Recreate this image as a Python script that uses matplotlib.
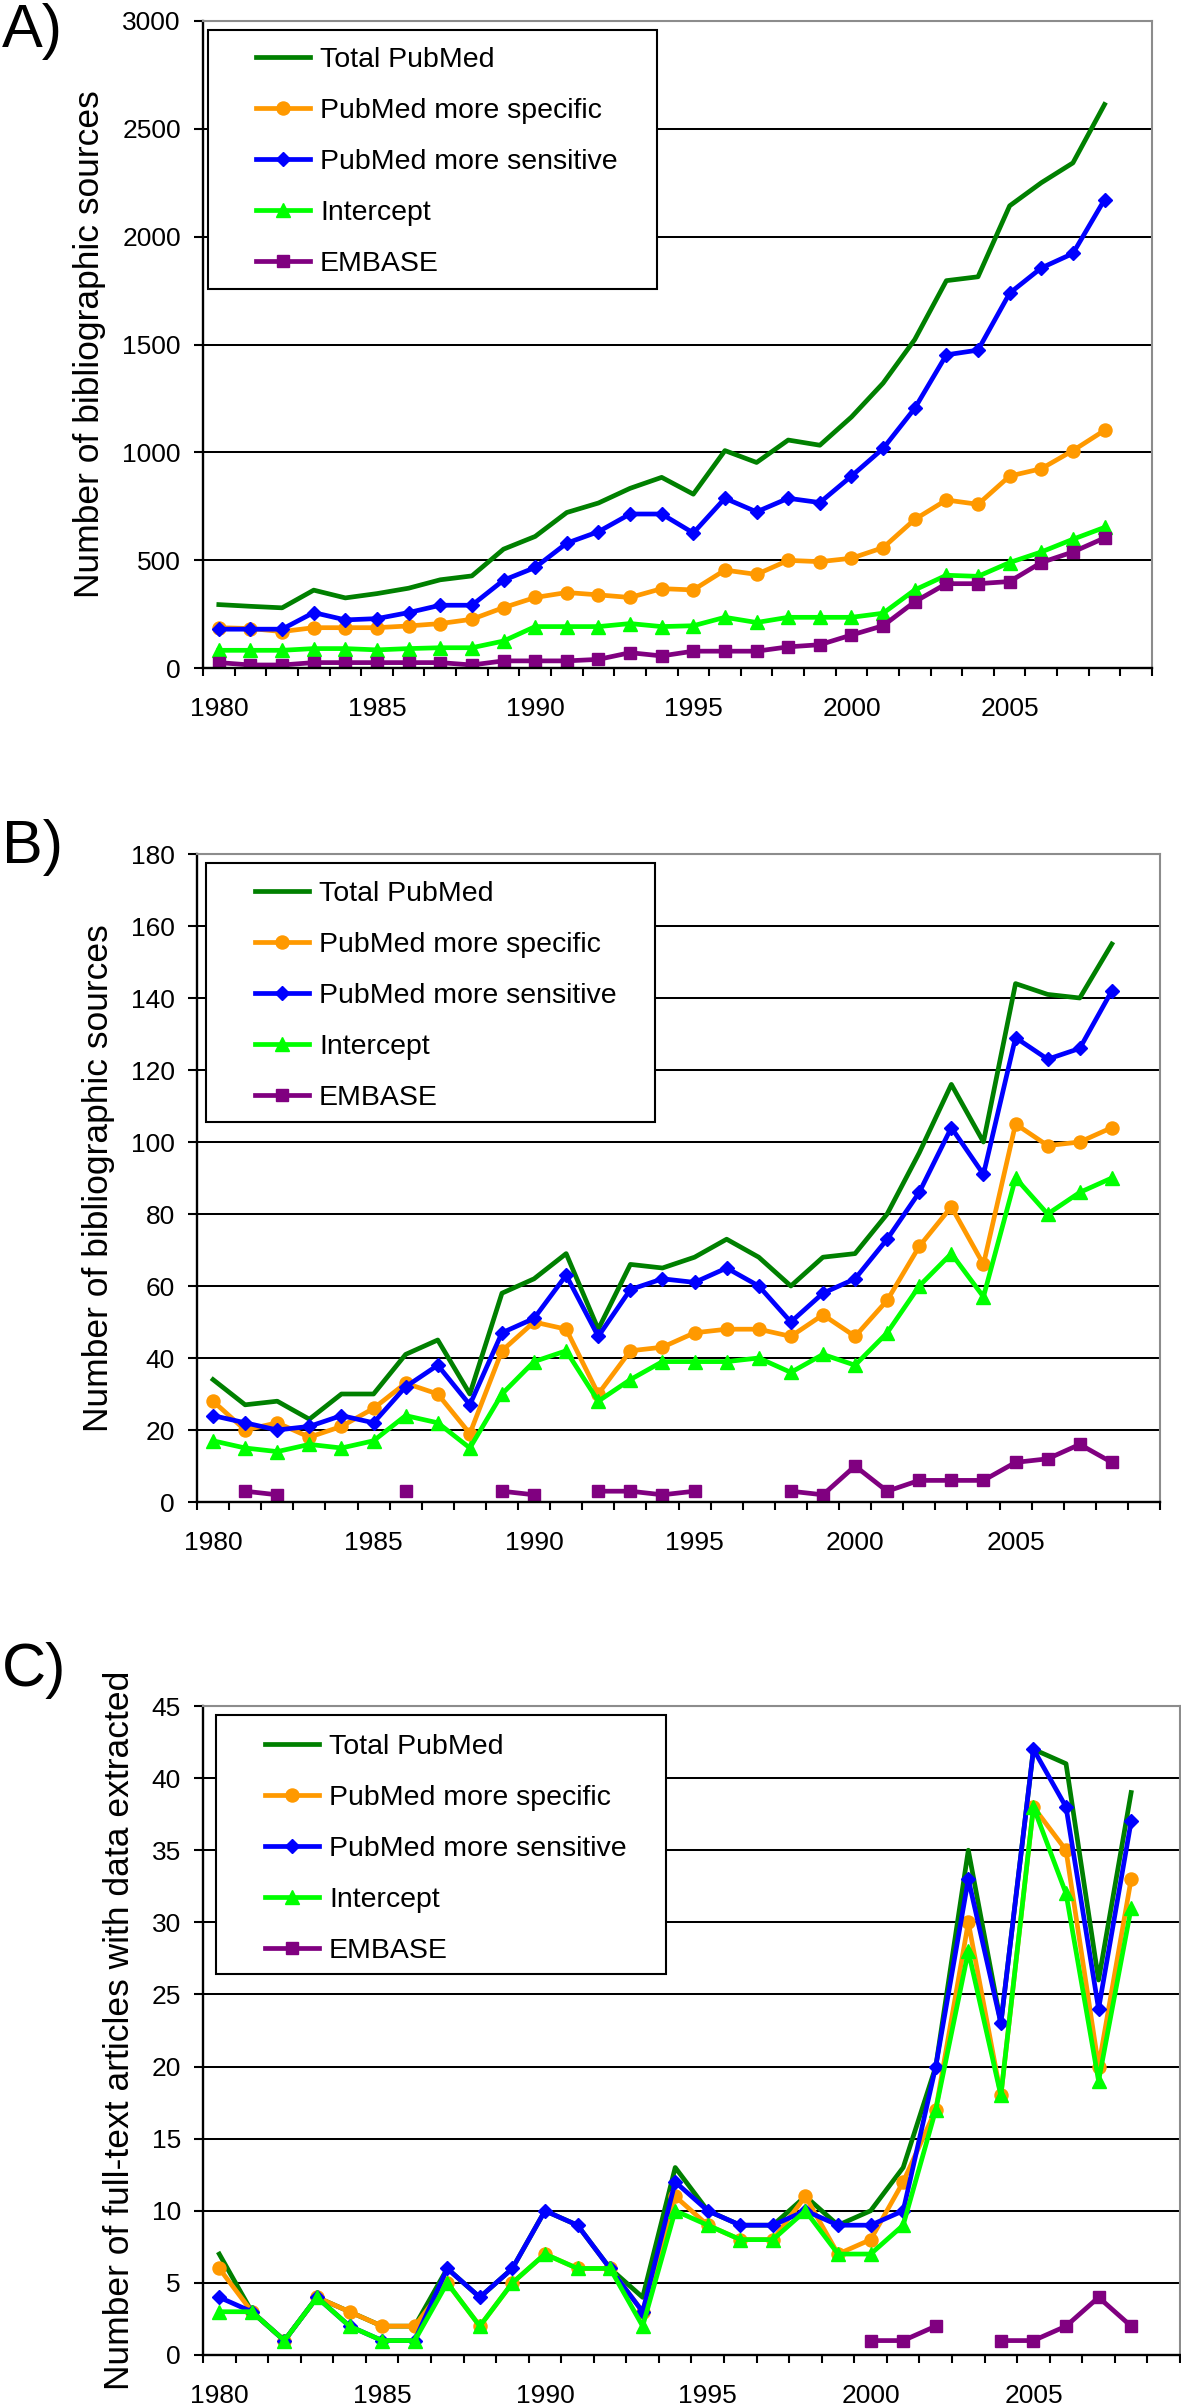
import numpy as np
import matplotlib.pyplot as plt
from matplotlib.patches import Rectangle

plt.rcParams['font.family'] = ['Liberation Sans', 'DejaVu Sans']

nan = np.nan
years = np.arange(1980, 2009)
series_names = ['Total PubMed', 'PubMed more specific', 'PubMed more sensitive',
                'Intercept', 'EMBASE']
year_ticks = [1980, 1985, 1990, 1995, 2000, 2005]

# A) bibliographic sources (all)
total_a = [294, 286, 279, 361, 325, 345, 370, 409, 427, 551, 610, 721, 765, 833, 884,
           806, 1008, 953, 1057, 1033, 1164, 1321, 1523, 1796, 1814, 2143, 2250, 2342, 2613]
specific_a = [187, 183, 169, 187, 187, 187, 195, 206, 226, 280, 327, 350, 339, 327, 368,
              362, 454, 434, 499, 493, 509, 558, 689, 779, 759, 890, 924, 1008, 1102]
sensitive_a = [180, 180, 180, 257, 223, 229, 257, 291, 291, 407, 466, 579, 632, 714, 714,
               626, 787, 724, 787, 767, 890, 1018, 1204, 1452, 1474, 1738, 1855, 1922, 2172]
intercept_a = [82, 82, 82, 90, 90, 84, 90, 94, 94, 125, 192, 192, 192, 206, 192,
               196, 235, 211, 235, 235, 235, 254, 362, 430, 425, 489, 538, 597, 652]
embase_a = [25, 14, 14, 25, 25, 25, 25, 25, 14, 33, 33, 33, 40, 71, 56,
            78, 78, 78, 98, 108, 153, 196, 307, 391, 391, 401, 489, 538, 603]

# B) bibliographic sources (subset)
total_b = [34, 27, 28, 23, 30, 30, 41, 45, 30, 58, 62, 69, 48, 66, 65,
           68, 73, 68, 60, 68, 69, 80, 97, 116, 100, 144, 141, 140, 155]
specific_b = [28, 20, 22, 18, 21, 26, 33, 30, 19, 42, 50, 48, 30, 42, 43,
              47, 48, 48, 46, 52, 46, 56, 71, 82, 66, 105, 99, 100, 104]
sensitive_b = [24, 22, 20, 21, 24, 22, 32, 38, 27, 47, 51, 63, 46, 59, 62,
               61, 65, 60, 50, 58, 62, 73, 86, 104, 91, 129, 123, 126, 142]
intercept_b = [17, 15, 14, 16, 15, 17, 24, 22, 15, 30, 39, 42, 28, 34, 39,
               39, 39, 40, 36, 41, 38, 47, 60, 69, 57, 90, 80, 86, 90]
embase_b = [nan, 3, 2, nan, nan, nan, 3, nan, nan, 3, 2, nan, 3, 3, 2,
            3, nan, nan, 3, 2, 10, 3, 6, 6, 6, 11, 12, 16, 11]

# C) full-text articles with data extracted
total_c = [7, 3, 1, 4, 3, 2, 2, 6, 4, 6, 10, 9, 6, 4, 13,
           10, 9, 9, 11, 9, 10, 13, 20, 35, 23, 42, 41, 26, 39]
specific_c = [6, 3, 1, 4, 3, 2, 2, 5, 2, 5, 7, 6, 6, 3, 11,
              9, 8, 8, 11, 7, 8, 12, 17, 30, 18, 38, 35, 20, 33]
sensitive_c = [4, 3, 1, 4, 2, 1, 1, 6, 4, 6, 10, 9, 6, 3, 12,
               10, 9, 9, 10, 9, 9, 10, 20, 33, 23, 42, 38, 24, 37]
intercept_c = [3, 3, 1, 4, 2, 1, 1, 5, 2, 5, 7, 6, 6, 2, 10,
               9, 8, 8, 10, 7, 7, 9, 17, 28, 18, 38, 32, 19, 31]
embase_c = [nan, nan, nan, nan, nan, nan, nan, nan, nan, nan, nan, nan, nan, nan, nan,
            nan, nan, nan, nan, nan, 1, 1, 2, nan, 1, 1, 2, 4, 2]

colors = ['#008000', '#FF9900', '#0000FF', '#00FF00', '#800080']
markers = ['None', 'o', 'D', '^', 's']
msizes = [0, 9.4, 6.8, 9.4, 8.8]

W, H = 1181, 2404
fig = plt.figure(figsize=(W / 100, H / 100), dpi=100)


def draw_panel(letter, data, box, ymax, ystep, ylabel, ylab_x, letter_y, frame, leg_x, leg_y):
    l, t, r, b = box
    ax = fig.add_axes([l / W, 1 - b / H, (r - l) / W, (b - t) / H])
    for vals, name, c, m, ms in zip(data, series_names, colors, markers, msizes):
        ax.plot(years, vals, color=c, lw=3.4, marker=m, ms=ms,
                mec=c, mfc=c, label=name)

    ax.set_xlim(1979.5, 2009.5)
    ax.set_xticks(year_ticks)
    ax.set_xticks(np.arange(1979.5, 2010, 1), minor=True)
    ax.tick_params(axis='x', which='major', length=0, pad=20.9, labelsize=19)
    ax.tick_params(axis='x', which='minor', length=6, width=1.5, direction='out')
    ax.set_ylim(0, ymax)
    ax.set_yticks(np.arange(0, ymax + 1, ystep))
    ax.tick_params(axis='y', length=6.5, width=1.5, direction='out', pad=9.5, labelsize=19)
    ax.yaxis.grid(True, color='black', lw=1.45)
    ax.set_axisbelow(True)
    for s in ['left', 'bottom']:
        ax.spines[s].set_linewidth(1.7)
    for s in ['top', 'right']:
        ax.spines[s].set_color('#8c8c8c')
        ax.spines[s].set_linewidth(1.5)

    ax.set_ylabel(ylabel, fontsize=25.5, va='center')
    ax.yaxis.set_label_coords((ylab_x - l) / (r - l), 0.5)

    # legend: white box with black border, entries placed inside
    fl, ft, fr, fb = frame
    ax.add_patch(Rectangle((fl / W, 1 - fb / H), (fr - fl) / W, (fb - ft) / H,
                           transform=fig.transFigure, clip_on=False,
                           facecolor='white', edgecolor='black', lw=1.5, zorder=4))
    ax.legend(loc='center left', bbox_to_anchor=(leg_x / W, 1 - leg_y / H),
              bbox_transform=fig.transFigure, frameon=False, fontsize=20.5,
              borderpad=0, borderaxespad=0, handlelength=1.9, handletextpad=0.35,
              labelspacing=0.88, numpoints=1)

    fig.text(2 / W, 1 - letter_y / H, letter, fontsize=44, ha='left', va='baseline')
    return ax


draw_panel('A)', [total_a, specific_a, sensitive_a, intercept_a, embase_a],
           (203, 21, 1152, 668), 3000, 500, 'Number of bibliographic sources',
           90, 47, (208, 30, 657, 289), 256, 162)
draw_panel('B)', [total_b, specific_b, sensitive_b, intercept_b, embase_b],
           (197, 854, 1160, 1502), 180, 20, 'Number of bibliographic sources',
           99, 863, (206, 863, 655, 1122), 255, 996)
draw_panel('C)', [total_c, specific_c, sensitive_c, intercept_c, embase_c],
           (203, 1706, 1180, 2355), 45, 5, 'Number of full-text articles with data extracted',
           120, 1686, (216, 1715, 666, 1974), 265, 1849)

fig.savefig('out.png', dpi=100)
